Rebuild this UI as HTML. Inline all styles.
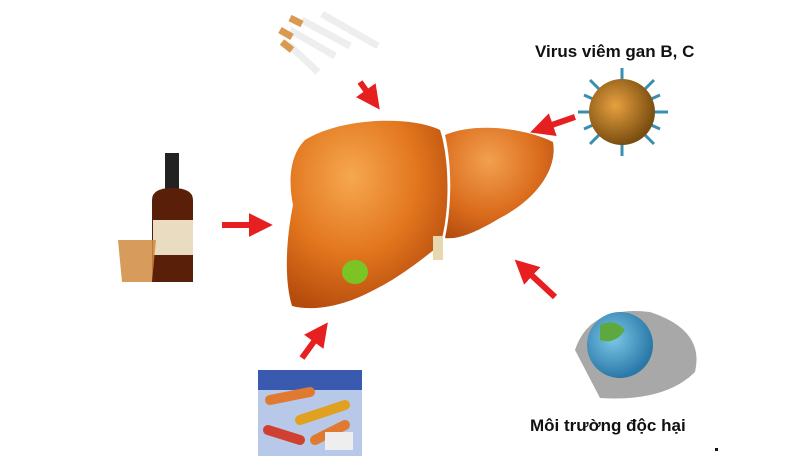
<!DOCTYPE html>
<html><head><meta charset="utf-8"><style>
html,body{margin:0;padding:0;background:#fff;}
svg{display:block;}
text{font-family:"Liberation Sans",sans-serif;font-weight:bold;fill:#111;}
</style></head><body>
<svg width="800" height="472" viewBox="0 0 800 472" xmlns="http://www.w3.org/2000/svg">
<defs>
<radialGradient id="lv" cx="0.4" cy="0.3" r="0.75">
<stop offset="0" stop-color="#f6a850"/><stop offset="0.55" stop-color="#e2761e"/><stop offset="1" stop-color="#b44a0c"/>
</radialGradient>
<radialGradient id="lv2" cx="0.4" cy="0.3" r="0.8">
<stop offset="0" stop-color="#f2a050"/><stop offset="0.6" stop-color="#da6c1c"/><stop offset="1" stop-color="#b04a10"/>
</radialGradient>
<radialGradient id="vr" cx="0.4" cy="0.4" r="0.6">
<stop offset="0" stop-color="#e8a040"/><stop offset="1" stop-color="#7a4e10"/>
</radialGradient>
<radialGradient id="er" cx="0.4" cy="0.4" r="0.6">
<stop offset="0" stop-color="#7cc8e8"/><stop offset="1" stop-color="#2a78a8"/>
</radialGradient>
<marker id="ah" viewBox="0 0 10 10" refX="3" refY="5" markerWidth="4" markerHeight="4" orient="auto">
<path d="M0,0 L10,5 L0,10 z" fill="#e62020"/></marker>
</defs>
<!-- liver left lobe -->
<path d="M305,140 C340,118 410,115 440,130 C450,160 450,215 440,245 C415,265 395,280 370,292 C345,305 315,312 292,306 C284,280 286,240 293,205 C288,180 290,155 305,140 Z" fill="url(#lv)"/>
<!-- right lobe -->
<path d="M445,135 C475,122 525,128 553,142 C558,170 535,200 500,218 C480,230 460,240 445,238 C452,205 452,165 445,135 Z" fill="url(#lv2)"/>
<ellipse cx="355" cy="272" rx="13" ry="12" fill="#7cc424"/>
<rect x="433" y="236" width="10" height="24" fill="#e8d8b0"/>
<!-- cigarettes -->
<g stroke-width="7" stroke-linecap="butt">
<line x1="290" y1="30" x2="335" y2="56" stroke="#eeeeee"/>
<line x1="302" y1="20" x2="350" y2="46" stroke="#eeeeee"/>
<line x1="322" y1="14" x2="378" y2="46" stroke="#eeeeee"/>
<line x1="288" y1="44" x2="318" y2="72" stroke="#eeeeee"/>
<line x1="280" y1="30" x2="292" y2="37" stroke="#d89a50"/>
<line x1="290" y1="18" x2="302" y2="24" stroke="#d89a50"/>
<line x1="282" y1="42" x2="292" y2="50" stroke="#d89a50"/>
</g>
<!-- virus -->
<g stroke="#3a8fb0" stroke-width="3">
<line x1="578" y1="112" x2="668" y2="112"/><line x1="622" y1="68" x2="622" y2="156"/>
<line x1="590" y1="80" x2="654" y2="144"/><line x1="654" y1="80" x2="590" y2="144"/>
<line x1="584" y1="95" x2="660" y2="129"/><line x1="660" y1="95" x2="584" y2="129"/>
</g>
<circle cx="622" cy="112" r="33" fill="url(#vr)"/>
<text x="535" y="57" font-size="17">Virus viêm gan B, C</text>
<!-- bottle -->
<rect x="165" y="153" width="14" height="40" fill="#222"/>
<path d="M152,200 Q152,188 172,188 Q193,188 193,200 L193,282 L152,282 Z" fill="#5a1f08"/>
<rect x="153" y="220" width="40" height="35" fill="#e9dcc0"/>
<path d="M118,240 L156,240 L152,282 L122,282 Z" fill="#d08a40" opacity="0.85"/>
<!-- pills -->
<rect x="258" y="370" width="104" height="86" fill="#b8c8e8"/>
<rect x="258" y="370" width="104" height="20" fill="#3a5ab0"/>
<g stroke-width="10" stroke-linecap="round">
<line x1="270" y1="400" x2="310" y2="392" stroke="#e07a30"/>
<line x1="300" y1="420" x2="345" y2="405" stroke="#e0a020"/>
<line x1="268" y1="430" x2="300" y2="440" stroke="#d04030"/>
<line x1="315" y1="440" x2="345" y2="425" stroke="#e07a30"/>
</g>
<rect x="325" y="432" width="28" height="18" fill="#eee"/>
<!-- earth -->
<path d="M575,350 Q590,305 650,312 Q705,330 695,372 Q665,402 600,398 Z" fill="#a8a8a8"/>
<circle cx="620" cy="345" r="33" fill="url(#er)"/>
<path d="M600,325 Q615,318 625,330 Q615,345 600,340 Z" fill="#5ea840"/>
<text x="530" y="431" font-size="17">Môi trường độc hại</text>
<!-- arrows -->
<g stroke="#e62020" stroke-width="6" marker-end="url(#ah)">
<line x1="360" y1="82" x2="370" y2="96"/>
<line x1="575" y1="117" x2="546" y2="127"/>
<line x1="222" y1="225" x2="256" y2="225"/>
<line x1="302" y1="358" x2="318" y2="336"/>
<line x1="555" y1="297" x2="527" y2="271"/>
</g>
<rect x="715" y="448" width="3" height="3" fill="#111"/>
</svg>
</body></html>
